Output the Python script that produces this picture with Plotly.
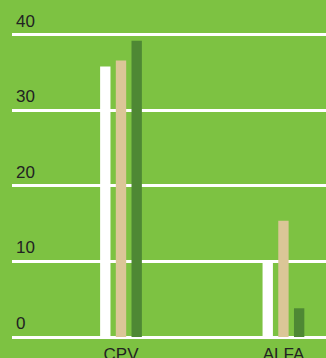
import plotly.graph_objects as go

categories = ["CPV", "ALFA"]
series_white = [35.8, 9.9]
series_tan = [36.6, 15.4]
series_dark = [39.2, 3.8]
y_ticks = [0, 10, 20, 30, 40]

BG = "#7DC242"
colors = ["#FFFFFF", "#DBC697", "#4E8834"]
FONT = "Liberation Sans, Arial, sans-serif"

fig = go.Figure()
for vals, col in zip([series_white, series_tan, series_dark], colors):
    fig.add_trace(go.Bar(x=categories, y=vals, marker=dict(color=col, line=dict(width=0)),
                         showlegend=False, hoverinfo="skip"))

# value labels sit above each gridline, flush with the left edge
for t in y_ticks:
    fig.add_annotation(x=0, xref="paper", y=t, yref="y", text=str(t), showarrow=False,
                       xanchor="left", yanchor="bottom", xshift=2, yshift=2,
                       font=dict(family=FONT, size=17, color="#222222"))

fig.update_layout(
    width=326, height=358,
    margin=dict(l=12, r=0, t=31, b=21, autoexpand=False),
    paper_bgcolor=BG, plot_bgcolor=BG,
    barmode="group", bargap=0.71, bargroupgap=0.34,
    font=dict(family=FONT, size=17, color="#222222"),
    xaxis=dict(range=[-0.671, 1.262], showgrid=False, zeroline=False, showline=False,
               ticks="", ticklabelstandoff=5, automargin=False, fixedrange=True),
    yaxis=dict(range=[0, 40.5], tickvals=y_ticks, showgrid=True, gridcolor="#FFFFFF",
               gridwidth=2.5, zeroline=True, zerolinecolor="#FFFFFF", zerolinewidth=2.5,
               showline=False, ticks="", showticklabels=False, automargin=False,
               fixedrange=True),
)

fig.write_html("out.html")
